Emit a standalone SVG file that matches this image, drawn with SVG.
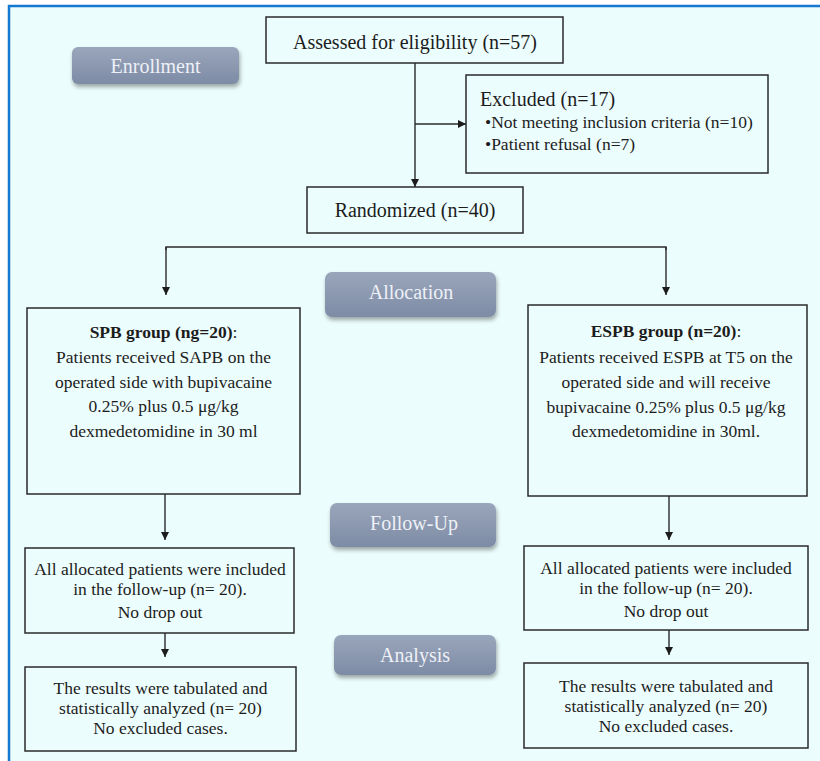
<svg xmlns="http://www.w3.org/2000/svg" width="820" height="761" viewBox="0 0 820 761">
<defs>
<style>
.box{fill:none;stroke:#2a2a2a;stroke-width:1.5}
text{font-family:'Liberation Serif','Tinos','Noto Serif','DejaVu Serif',serif}
.t{font-size:17.5px;fill:#1c1c1c;text-anchor:middle}
.tl{font-size:17.5px;fill:#1c1c1c}
.big{font-size:20px}
.b{font-weight:bold}
.stage{fill:url(#pillGrad);filter:url(#shadow)}
.st{font-size:20px;fill:#eef1f7;text-anchor:middle}
.con{fill:none;stroke:#2a2a2a;stroke-width:1.4}
</style>
<linearGradient id="pillGrad" x1="0" y1="0" x2="0" y2="1">
<stop offset="0" stop-color="#9aa6bb"/>
<stop offset="1" stop-color="#7d8ba5"/>
</linearGradient>
<filter id="shadow" x="-10%" y="-20%" width="125%" height="160%">
<feGaussianBlur in="SourceAlpha" stdDeviation="2"/>
<feOffset dx="1" dy="3" result="o"/>
<feComponentTransfer><feFuncA type="linear" slope="0.35"/></feComponentTransfer>
<feMerge><feMergeNode/><feMergeNode in="SourceGraphic"/></feMerge>
</filter>
<marker id="arr" viewBox="0 0 10 10" refX="10" refY="5" markerWidth="8" markerHeight="8" markerUnits="userSpaceOnUse" orient="auto">
<path d="M0,0 L10,5 L0,10 z" fill="#1c1c1c"/>
</marker>
</defs>
<rect x="0" y="0" width="820" height="761" fill="#ffffff"/>
<rect x="9" y="6" width="811" height="755" fill="#ecfdfd"/>
<path d="M9,761 V6 H820" fill="none" stroke="#1479d0" stroke-width="2.5"/>

<g id="stage-enrollment">
<rect class="stage" x="72" y="47" width="167" height="37" rx="6"/>
<text class="st" x="155.5" y="72.5">Enrollment</text>
</g>
<g id="stage-allocation">
<rect class="stage" x="325" y="272" width="171" height="45" rx="7"/>
<text class="st" x="411" y="299">Allocation</text>
</g>
<g id="stage-followup">
<rect class="stage" x="330" y="503" width="166" height="44" rx="7"/>
<text class="st" x="414" y="530">Follow-Up</text>
</g>
<g id="stage-analysis">
<rect class="stage" x="334" y="635" width="162" height="40" rx="7"/>
<text class="st" x="415" y="661.5">Analysis</text>
</g>

<g id="connectors">
<line class="con" x1="415" y1="63" x2="415" y2="187" marker-end="url(#arr)"/>
<line class="con" x1="415" y1="124" x2="466" y2="124" marker-end="url(#arr)"/>
<polyline class="con" points="166,250 166,247 666,247 666,250"/>
<line class="con" x1="166" y1="247" x2="166" y2="295" marker-end="url(#arr)"/>
<line class="con" x1="666" y1="247" x2="666" y2="295" marker-end="url(#arr)"/>
<line class="con" x1="165" y1="494" x2="165" y2="540" marker-end="url(#arr)"/>
<line class="con" x1="669" y1="496" x2="669" y2="540" marker-end="url(#arr)"/>
<line class="con" x1="165" y1="633" x2="165" y2="657" marker-end="url(#arr)"/>
<line class="con" x1="669" y1="630" x2="669" y2="655" marker-end="url(#arr)"/>
</g>

<g id="assessed">
<rect class="box" x="266" y="17" width="297" height="46"/>
<text class="t big" x="415" y="49">Assessed for eligibility (n=57)</text>
</g>
<g id="excluded">
<rect class="box" x="466" y="75" width="302" height="98"/>
<text class="tl big" x="480" y="106">Excluded (n=17)</text>
<text class="tl" x="485" y="128">•Not meeting inclusion criteria (n=10)</text>
<text class="tl" x="485" y="150">•Patient refusal (n=7)</text>
</g>
<g id="randomized">
<rect class="box" x="307" y="187" width="216" height="46"/>
<text class="t big" x="415" y="217">Randomized (n=40)</text>
</g>
<g id="spb">
<rect class="box" x="27" y="308" width="273" height="186"/>
<text class="t" x="163.5" y="338"><tspan class="b">SPB group (ng=20)</tspan>:</text>
<text class="t" x="163.5" y="363">Patients received SAPB on the</text>
<text class="t" x="163.5" y="388">operated side with bupivacaine</text>
<text class="t" x="163.5" y="412">0.25% plus 0.5 μg/kg</text>
<text class="t" x="163.5" y="437">dexmedetomidine in 30 ml</text>
</g>
<g id="espb">
<rect class="box" x="528" y="305" width="279" height="191"/>
<text class="t" x="666" y="337"><tspan class="b">ESPB group (n=20)</tspan>:</text>
<text class="t" x="666" y="363">Patients received ESPB at T5 on the</text>
<text class="t" x="666" y="388">operated side and will receive</text>
<text class="t" x="666" y="413">bupivacaine 0.25% plus 0.5 μg/kg</text>
<text class="t" x="666" y="437">dexmedetomidine in 30ml.</text>
</g>
<g id="followup-spb">
<rect class="box" x="25" y="548" width="269" height="85"/>
<text class="t" x="160" y="575">All allocated patients were included</text>
<text class="t" x="160" y="595">in the follow-up (n= 20).</text>
<text class="t" x="160" y="618">No drop out</text>
</g>
<g id="followup-espb">
<rect class="box" x="524" y="546" width="284" height="84"/>
<text class="t" x="666" y="574">All allocated patients were included</text>
<text class="t" x="666" y="594">in the follow-up (n= 20).</text>
<text class="t" x="666" y="617">No drop out</text>
</g>
<g id="analysis-spb">
<rect class="box" x="25" y="667" width="271" height="84"/>
<text class="t" x="160.5" y="694">The results were tabulated and</text>
<text class="t" x="160.5" y="714">statistically analyzed (n= 20)</text>
<text class="t" x="160.5" y="734">No excluded cases.</text>
</g>
<g id="analysis-espb">
<rect class="box" x="524" y="663" width="284" height="85"/>
<text class="t" x="666" y="692">The results were tabulated and</text>
<text class="t" x="666" y="712">statistically analyzed (n= 20)</text>
<text class="t" x="666" y="732">No excluded cases.</text>
</g>
</svg>
